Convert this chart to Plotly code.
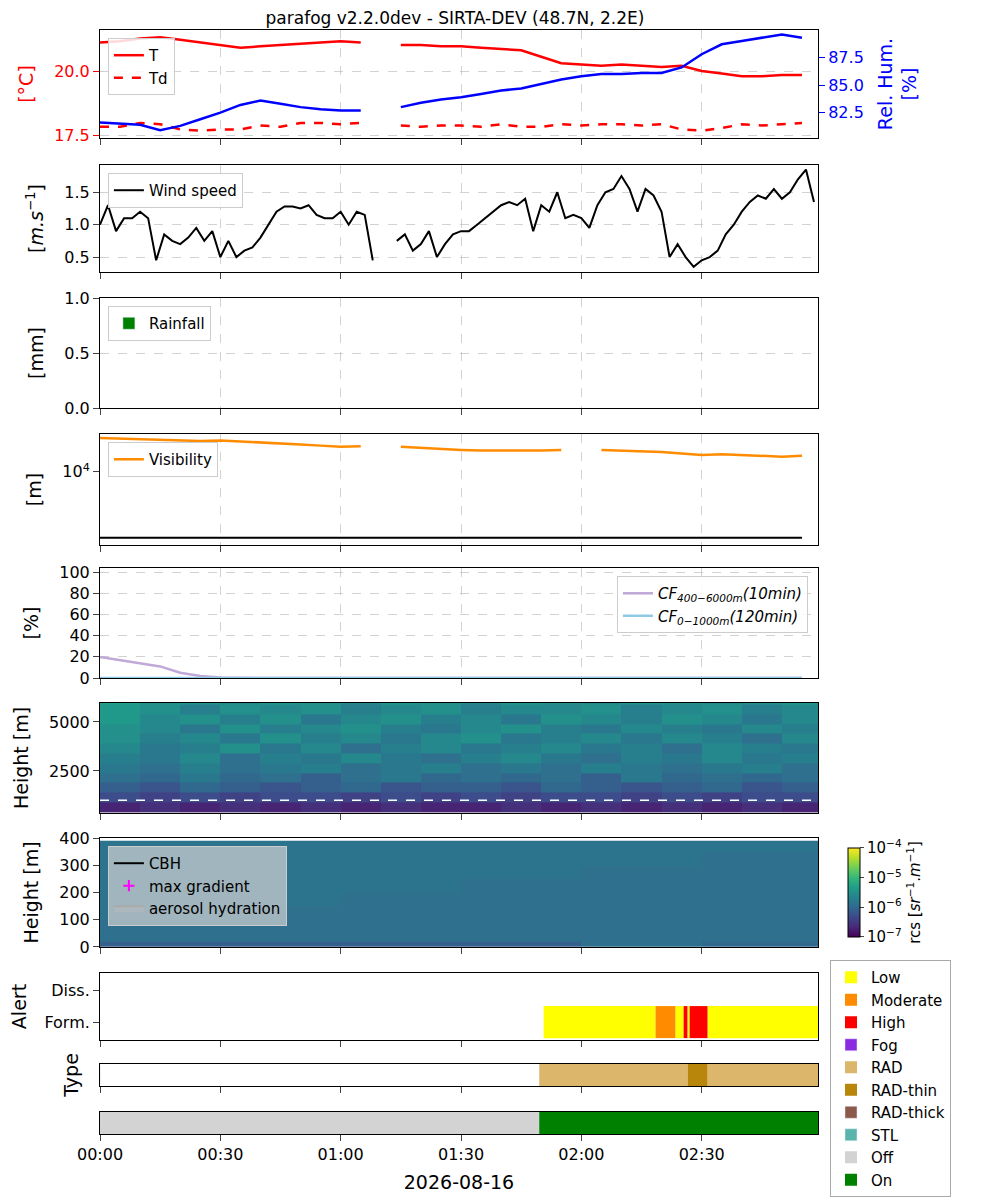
import plotly.graph_objects as go
import pandas as pd

day = "2026-08-16"
t5 = [f"{day} {m//60:02d}:{m%60:02d}" for m in range(0, 180, 5)]
t2 = [f"{day} {m//60:02d}:{m%60:02d}" for m in range(0, 180, 2)]

T = [21.1,21.15,21.25,21.3,21.2,21.1,21.0,20.9,20.95,21.0,21.05,21.1,21.15,21.1,None,21.0,21.0,20.95,
     20.95,20.9,20.85,20.8,20.55,20.3,20.25,20.2,20.25,20.2,20.15,20.2,20.0,19.9,19.8,19.8,19.85,19.85]
Td = [17.85,17.85,18.0,17.95,17.75,17.7,17.75,17.75,17.9,17.85,18.0,18.0,17.95,18.0,None,17.9,17.85,17.9,
      17.9,17.85,17.95,17.85,17.85,17.95,17.9,17.95,17.95,17.9,17.95,17.75,17.7,17.8,17.95,17.9,17.95,18.0]
RH = [81.6,81.5,81.4,80.9,81.3,81.9,82.5,83.2,83.6,83.3,83.0,82.8,82.7,82.7,None,83.0,83.4,83.7,
      83.9,84.2,84.5,84.7,85.1,85.5,85.8,86.0,86.0,86.1,86.1,86.6,87.8,88.7,89.0,89.3,89.6,89.3]
wind = [1.0,1.3,0.9,1.1,1.1,1.2,1.1,0.45,0.85,0.75,0.7,0.8,0.95,0.75,0.9,0.5,0.75,0.5,0.6,0.65,
        0.8,1.0,1.2,1.28,1.28,1.25,1.3,1.15,1.1,1.1,1.2,1.0,1.2,1.15,0.45,None,None,0.75,0.85,0.6,
        0.7,0.9,0.5,0.7,0.85,0.9,0.9,1.0,1.1,1.2,1.3,1.35,1.3,1.4,0.9,1.3,1.2,1.5,1.1,1.15,
        1.1,0.95,1.3,1.5,1.55,1.75,1.55,1.2,1.55,1.45,1.2,0.5,0.7,0.5,0.35,0.45,0.5,0.6,0.85,1.0,
        1.2,1.35,1.45,1.4,1.55,1.4,1.5,1.7,1.85,1.35]
vis = [32700,32000,31000,30500,30000,29500,30000,29000,28500,27500,26000,25000,24000,24500,None,24000,23000,22500,
       21500,21000,21000,20500,21000,21500,None,21500,21000,20500,20000,19000,18000,18500,18000,17500,17000,17500]
vis_thr = [1000]*36
cf_hi = [20,17,14,11,5,2,0.5,0,0,0,0,0,0,0,0,0,0,0,0,0,0,0,0,0,0,0,0,0,0,0,0,0,0,0,0,0]
cf_lo = [0]*36

# lidar (log10 rcs)
h_hi = [400,900,1400,1900,2400,2900,3400,3900,4400,4900,5400,5900]
t_edges = [f"{day} {m//60:02d}:{m%60:02d}" for m in range(0, 190, 10)]
z_hi = [
 [-6.7,-6.6,-6.7,-6.6,-6.7,-6.6,-6.7,-6.6,-6.7,-6.7,-6.6,-6.7,-6.6,-6.7,-6.6,-6.7,-6.6,-6.7],
 [-6.3,-6.4,-6.3,-6.4,-6.3,-6.3,-6.4,-6.3,-6.4,-6.3,-6.4,-6.3,-6.3,-6.4,-6.3,-6.4,-6.3,-6.3],
 [-6.1,-6.2,-6.0,-6.1,-6.2,-6.1,-6.0,-6.2,-6.1,-6.1,-6.2,-6.0,-6.1,-6.2,-6.1,-6.0,-6.2,-6.1],
 [-5.9,-6.0,-5.8,-6.0,-5.9,-6.1,-5.9,-5.8,-6.0,-5.9,-6.0,-5.9,-6.1,-5.8,-6.0,-5.9,-6.0,-5.9],
 [-5.8,-5.9,-5.7,-5.9,-5.8,-5.7,-5.9,-5.8,-5.7,-5.9,-5.8,-5.9,-5.7,-5.8,-5.9,-5.8,-5.7,-5.9],
 [-5.7,-5.8,-5.6,-5.9,-5.7,-5.8,-5.6,-5.8,-5.9,-5.7,-5.6,-5.8,-5.9,-5.7,-5.8,-5.6,-5.8,-5.7],
 [-5.6,-5.8,-5.7,-5.5,-5.8,-5.6,-5.9,-5.7,-5.6,-5.8,-5.7,-5.6,-5.8,-5.7,-5.9,-5.6,-5.7,-5.8],
 [-5.5,-5.7,-5.6,-5.8,-5.5,-5.7,-5.6,-5.8,-5.6,-5.5,-5.8,-5.7,-5.6,-5.8,-5.6,-5.7,-5.9,-5.6],
 [-5.5,-5.6,-5.8,-5.5,-5.7,-5.6,-5.5,-5.7,-5.8,-5.6,-5.5,-5.7,-5.8,-5.6,-5.7,-5.8,-5.6,-5.7],
 [-5.4,-5.6,-5.5,-5.7,-5.5,-5.8,-5.6,-5.5,-5.7,-5.6,-5.8,-5.5,-5.6,-5.7,-5.5,-5.6,-5.8,-5.6],
 [-5.4,-5.5,-5.7,-5.5,-5.6,-5.5,-5.7,-5.6,-5.5,-5.7,-5.6,-5.6,-5.5,-5.7,-5.6,-5.5,-5.7,-5.6],
 [-5.3,-5.5,-5.4,-5.6,-5.4,-5.5,-5.6,-5.4,-5.5,-5.6,-5.4,-5.5,-5.6,-5.4,-5.5,-5.6,-5.5,-5.4],
]
h_lo = [0,20,60,100,150,200,250,300,350,390]
t_edges_lo = [f"{day} {m//60:02d}:{m%60:02d}" for m in range(0, 210, 30)]
z_lo = [
 [-6.1,-6.1,-6.1,-6.1,-5.9,-6.0],
 [-5.9,-5.9,-5.9,-5.9,-5.9,-5.9],
 [-5.9,-5.9,-5.9,-5.9,-5.9,-5.9],
 [-5.85,-5.9,-5.9,-5.9,-5.9,-5.9],
 [-5.85,-5.85,-5.9,-5.9,-5.9,-5.9],
 [-5.85,-5.85,-5.85,-5.9,-5.9,-5.9],
 [-5.85,-5.85,-5.85,-5.85,-5.9,-5.9],
 [-5.85,-5.85,-5.85,-5.85,-5.85,-5.9],
 [-5.85,-5.85,-5.85,-5.85,-5.85,-5.85],
]
cbh_level = 1000

alert_segs = [("01:50:36","02:18:30","Low"),("02:18:30","02:23:30","Moderate"),("02:23:30","02:25:30","Low"),
              ("02:25:30","02:26:30","High"),("02:26:30","02:27:00","Low"),("02:27:00","02:31:30","High"),
              ("02:31:30","02:59:00","Low")]
type_segs = [("01:49:30","02:26:30","RAD"),("02:26:30","02:31:30","RAD-thin"),("02:31:30","02:59:00","RAD")]
stat_segs = [("00:00:00","01:49:30","Off"),("01:49:30","02:59:00","On")]
colors = {"Low":"#ffff00","Moderate":"#ff8c00","High":"#ff0000","Fog":"#8a2be2","RAD":"#dbb66b",
          "RAD-thin":"#b8860b","RAD-thick":"#8b5a4b","STL":"#5ab4ac","Off":"#d3d3d3","On":"#008000"}
order = ["Low","Moderate","High","Fog","RAD","RAD-thin","RAD-thick","STL","Off","On"]

FONT = "DejaVu Sans"
fig = go.Figure()
shown = set()
def seg_bars(segs, yval, ax):
    for s, e, lab in segs:
        st = pd.Timestamp(f"{day} {s}"); en = pd.Timestamp(f"{day} {e}")
        fig.add_trace(go.Bar(x=[(en-st).total_seconds()*1000], y=[yval], base=[st.strftime("%Y-%m-%d %H:%M:%S")],
                             orientation="h", width=1.0, marker=dict(color=colors[lab], line=dict(width=0)),
                             name=lab, legend="legend7", showlegend=lab not in shown,
                             legendrank=order.index(lab), xaxis=ax[0], yaxis=ax[1]))
        shown.add(lab)

fig.add_trace(go.Scatter(x=t5, y=T, name="T", line=dict(color="red", width=2.5), legend="legend", xaxis="x", yaxis="y"))
fig.add_trace(go.Scatter(x=t5, y=Td, name="Td", line=dict(color="red", width=2.5, dash="dash"), legend="legend", xaxis="x", yaxis="y"))
fig.add_trace(go.Scatter(x=t5, y=RH, name="RH", showlegend=False, line=dict(color="blue", width=2.5), xaxis="x", yaxis="y11"))
fig.add_trace(go.Scatter(x=t2, y=wind, name="Wind speed", line=dict(color="black", width=2), legend="legend2", xaxis="x2", yaxis="y2"))
fig.add_trace(go.Bar(x=[t5[0]], y=[0], name="Rainfall", marker_color="green", legend="legend3", xaxis="x3", yaxis="y3"))
fig.add_trace(go.Scatter(x=t5, y=vis, name="Visibility", line=dict(color="darkorange", width=2.5), legend="legend4", xaxis="x4", yaxis="y4"))
fig.add_trace(go.Scatter(x=t5, y=vis_thr, showlegend=False, line=dict(color="black", width=2), xaxis="x4", yaxis="y4"))
fig.add_trace(go.Scatter(x=t5, y=cf_hi, name="<i>CF</i><sub><i>400−6000m</i></sub><i>(10min)</i>", line=dict(color="#c0a8d8", width=2.5), legend="legend5", xaxis="x5", yaxis="y5"))
fig.add_trace(go.Scatter(x=t5, y=cf_lo, name="<i>CF</i><sub><i>0−1000m</i></sub><i>(120min)</i>", line=dict(color="#8ecae6", width=2.5), legend="legend5", xaxis="x5", yaxis="y5"))
fig.add_trace(go.Heatmap(x=t_edges, y=h_hi + [6000], z=z_hi, coloraxis="coloraxis", xaxis="x6", yaxis="y6", showlegend=False))
fig.add_trace(go.Scatter(x=[t_edges[0], t_edges[-1]], y=[cbh_level, cbh_level], mode="lines", showlegend=False,
                         line=dict(color="white", width=1.5, dash="dash"), xaxis="x6", yaxis="y6"))
fig.add_trace(go.Heatmap(x=t_edges_lo, y=h_lo, z=z_lo, coloraxis="coloraxis", xaxis="x7", yaxis="y7", showlegend=False))
fig.add_trace(go.Scatter(x=[None], y=[None], name="CBH", mode="lines", line=dict(color="black", width=2), legend="legend6", xaxis="x7", yaxis="y7"))
fig.add_trace(go.Scatter(x=[None], y=[None], name="max gradient", mode="markers", marker=dict(symbol="cross-thin", color="magenta", size=8, line=dict(color="magenta", width=2)), legend="legend6", xaxis="x7", yaxis="y7"))
fig.add_trace(go.Scatter(x=[None], y=[None], name="aerosol hydration", fill="toself", mode="lines", fillcolor="rgba(190,190,190,0.4)", line=dict(color="#aaaaaa"), legend="legend6", xaxis="x7", yaxis="y7"))
seg_bars(alert_segs, "Form.", ("x8", "y8"))
seg_bars(type_segs, "t", ("x9", "y9"))
seg_bars(stat_segs, "s", ("x10", "y10"))
for lab in order:
    if lab not in shown:
        fig.add_trace(go.Bar(x=[0], y=["t"], base=[f"{day} 00:00:00"], orientation="h", marker_color=colors[lab], name=lab,
                             legend="legend7", legendrank=order.index(lab), xaxis="x9", yaxis="y9"))

doms = [(0.9022,1),(0.7808,0.8777),(0.6576,0.7572),(0.5335,0.6341),(0.4130,0.5127),(0.2908,0.3904),
        (0.1694,0.2681),(0.0851,0.1458),(0.0435,0.0634),(0,0.0199)]
xr = [f"{day} 00:00:00", f"{day} 02:59:00"]
lay = dict(width=1000, height=1200, margin=dict(l=92, r=190, t=22, b=74, autoexpand=False),
           plot_bgcolor="white", paper_bgcolor="white",
           font=dict(family=FONT, size=16, color="black"), barmode="overlay",
           title=dict(text="parafog v2.2.0dev - SIRTA-DEV (48.7N, 2.2E)", x=0.447, xanchor="center",
                      y=0.992, yanchor="middle", font=dict(size=17)))
for i, (a, b) in enumerate(doms, start=1):
    xn = "xaxis" if i == 1 else f"xaxis{i}"
    yn = "yaxis" if i == 1 else f"yaxis{i}"
    grid = i not in (8, 9, 10)
    lay[xn] = dict(domain=[0, 1], anchor="y" if i == 1 else f"y{i}", type="date", range=xr, automargin=False,
                   matches=None if i == 1 else "x", showline=True, mirror=True, linecolor="black",
                   ticks="outside", ticklen=6, dtick=30*60*1000, tick0=f"{day} 00:00",
                   tickformat="%H:%M", showticklabels=(i == 10), showgrid=grid,
                   gridcolor="rgba(180,180,180,0.6)", griddash="dash")
    lay[yn] = dict(domain=[a, b], anchor="x" if i == 1 else f"x{i}", showline=True, mirror=True, linecolor="black",
                   automargin=False, ticks="outside", ticklen=6, zeroline=False, showgrid=grid,
                   gridcolor="rgba(180,180,180,0.6)", griddash="dash")
lay["xaxis10"]["title"] = dict(text=day, standoff=12)
lay["yaxis"].update(range=[17.42, 21.58], tickvals=[17.5, 20.0], ticktext=["17.5", "20.0"], color="red",
                    title=dict(text="[°C]", font=dict(color="red")), mirror=False, linecolor="black")
lay["yaxis11"] = dict(overlaying="y", side="right", anchor="x", range=[80.2, 90.0], tickvals=[82.5, 85.0, 87.5],
                      ticktext=["82.5", "85.0", "87.5"], color="blue", ticks="outside", ticklen=6, showgrid=False,
                      showline=True, linecolor="black", tickfont=dict(color="blue"), automargin=False,
                      title=dict(text="Rel. Hum.<br>[%]", font=dict(color="blue")))
lay["yaxis2"].update(range=[0.27, 1.92], tickvals=[0.5, 1.0, 1.5], ticktext=["0.5", "1.0", "1.5"], title="[<i>m.s</i><sup>−1</sup>]")
lay["yaxis3"].update(range=[0, 1], tickvals=[0, 0.5, 1], ticktext=["0.0", "0.5", "1.0"], title="[mm]")
lay["yaxis4"].update(type="log", range=[2.89, 4.575], tickvals=[10000], ticktext=["10<sup>4</sup>"], title="[m]", showgrid=False)
lay["yaxis5"].update(range=[0, 104], dtick=20, title="[%]")
lay["yaxis6"].update(range=[357, 5970], tickvals=[2500, 5000], title="Height [m]", showgrid=False)
lay["xaxis6"].update(gridcolor="rgba(255,255,255,0.35)", layer="above traces")
lay["yaxis7"].update(range=[0, 400], dtick=100, title="Height [m]", showgrid=False)
lay["xaxis7"].update(showgrid=False)
lay["yaxis8"].update(type="category", categoryarray=["Form.", "Diss."], range=[-0.56, 1.53], title="Alert")
lay["yaxis9"].update(type="category", range=[-0.5, 0.5], showticklabels=False, ticks="", title="Type")
lay["yaxis10"].update(type="category", range=[-0.5, 0.5], showticklabels=False, ticks="")
lay["coloraxis"] = dict(colorscale="Viridis", cmin=-7, cmax=-4,
                        colorbar=dict(x=1.028, xanchor="left", y=0.2188, yanchor="middle", len=0.0987, thickness=12,
                                      outlinecolor="black", outlinewidth=1, ticks="outside", ticklen=4,
                                      tickvals=[-7, -6, -5, -4],
                                      ticktext=["10<sup>−7</sup>", "10<sup>−6</sup>", "10<sup>−5</sup>", "10<sup>−4</sup>"],
                                      title=dict(text="rcs [<i>sr</i><sup>−1</sup>.<i>m</i><sup>−1</sup>]", side="right", font=dict(size=15)),
                                      tickfont=dict(size=15)))
lb = dict(bgcolor="rgba(255,255,255,0.85)", bordercolor="#cccccc", borderwidth=1, font=dict(size=15),
          xanchor="left", yanchor="top")
lay["legend"] = dict(lb, x=0.011, y=0.9928)
lay["legend2"] = dict(lb, x=0.011, y=0.8705)
lay["legend3"] = dict(lb, x=0.011, y=0.75)
lay["legend4"] = dict(lb, x=0.011, y=0.6268)
lay["legend5"] = dict(lb, x=0.986, y=0.5054, xanchor="right")
lay["legend6"] = dict(lb, x=0.011, y=0.2609, bgcolor="rgba(210,210,210,0.7)")
lay["legend7"] = dict(lb, x=1.0167, y=0.1576, bordercolor="#aaaaaa", font=dict(size=15), tracegroupgap=0)
fig.update_layout(**lay)
fig.write_html("out.html")
